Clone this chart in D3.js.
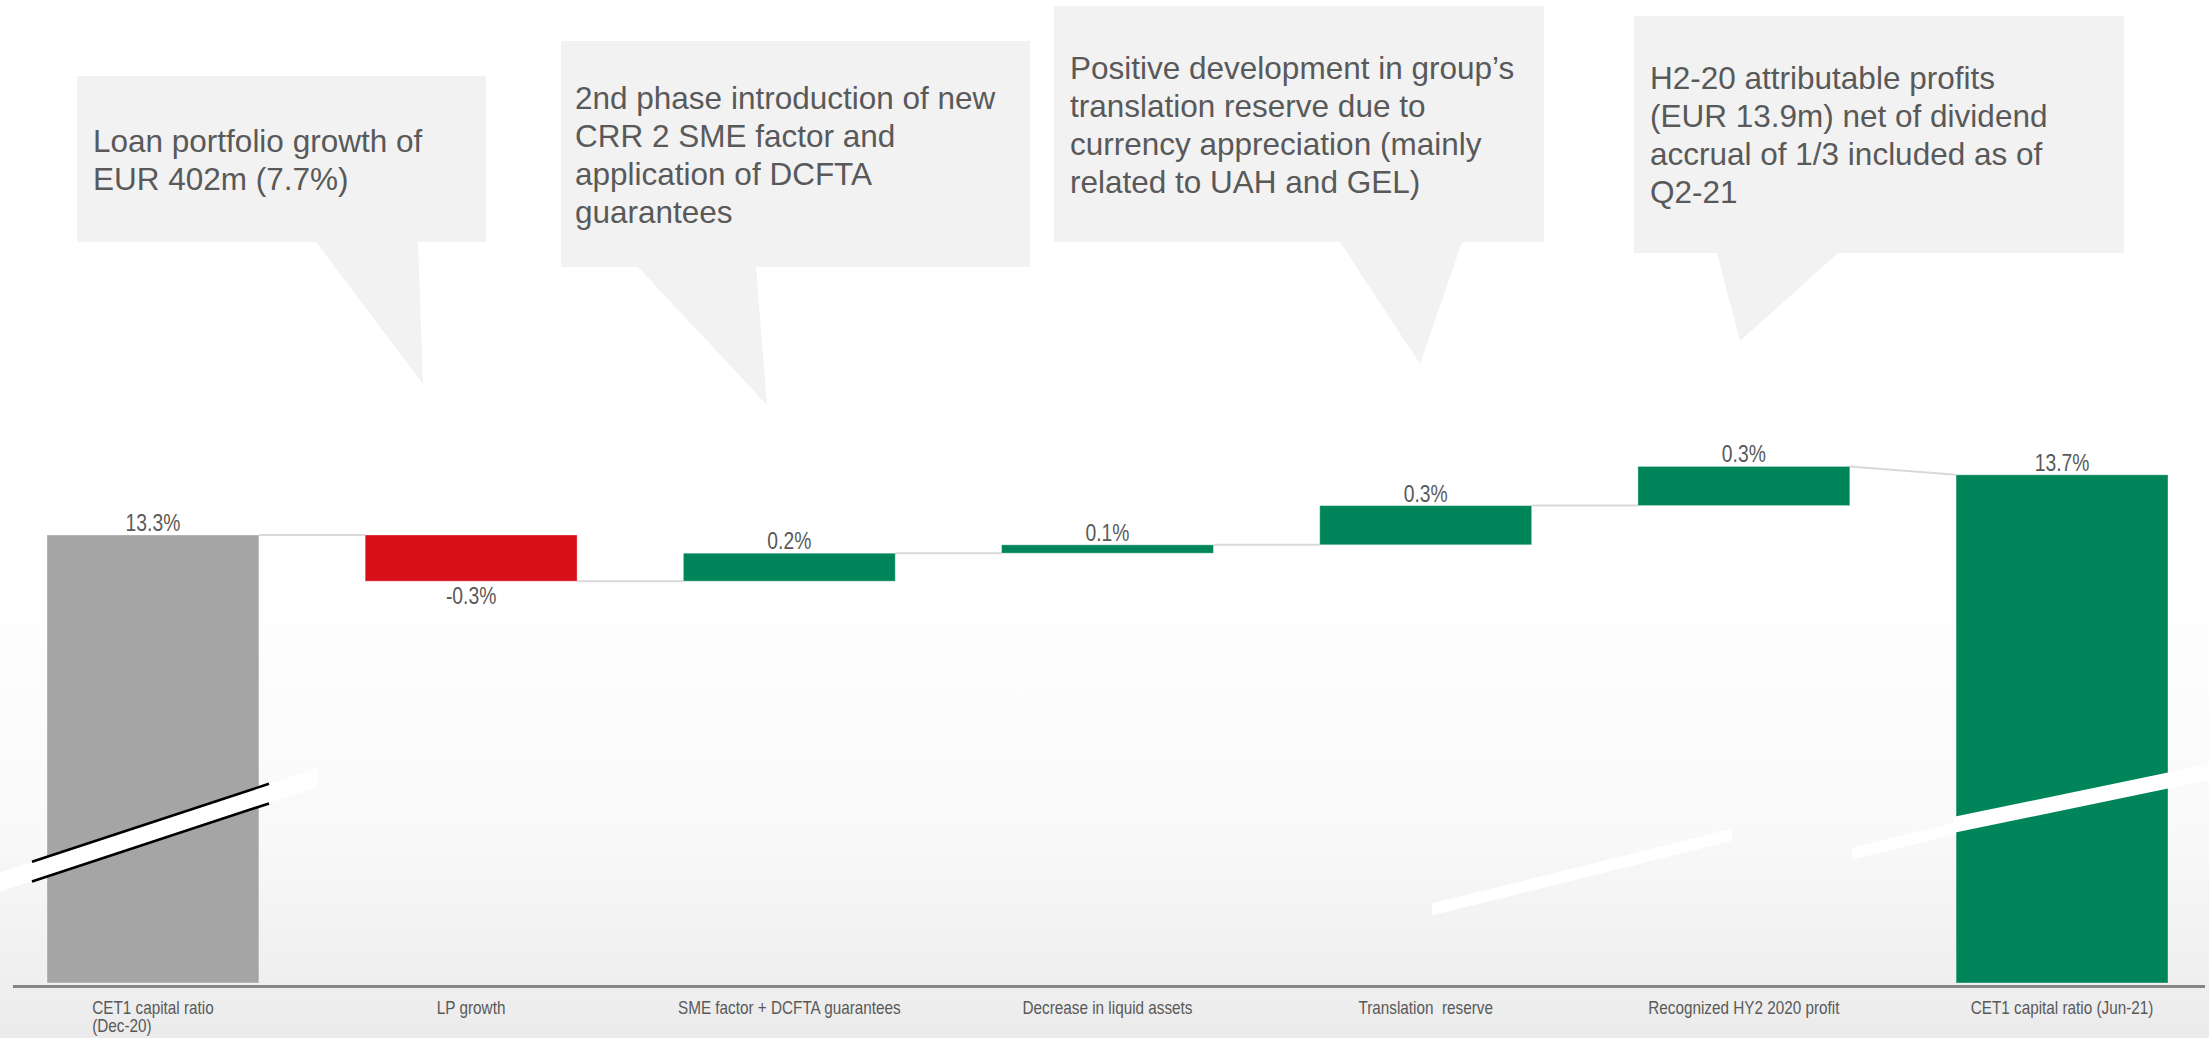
<!DOCTYPE html>
<html>
<head>
<meta charset="utf-8">
<script src="https://cdn.jsdelivr.net/npm/d3@7"></script>
<style>
  html, body { margin: 0; padding: 0; background: #ffffff; }
  svg { display: block; }
  text { white-space: pre; }
</style>
</head>
<body>
<svg id="chart" width="2209" height="1038"></svg>
<script>
// ---------------- DATA ----------------
const categories = [
  ["CET1 capital ratio", "(Dec-20)"],
  ["LP growth"],
  ["SME factor + DCFTA guarantees"],
  ["Decrease in liquid assets"],
  ["Translation  reserve"],
  ["Recognized HY2 2020 profit"],
  ["CET1 capital ratio (Jun-21)"]
];
const values = [13.3, -0.33, 0.20, 0.06, 0.28, 0.28, 13.73];
const kinds  = ["total", "delta", "delta", "delta", "delta", "delta", "total"];

const calloutTexts = [
  ["Loan portfolio growth of", "EUR 402m (7.7%)"],
  ["2nd phase introduction of new", "CRR 2 SME factor and", "application of DCFTA", "guarantees"],
  ["Positive development in group\u2019s", "translation reserve due to", "currency appreciation (mainly", "related to UAH and GEL)"],
  ["H2-20 attributable profits", "(EUR 13.9m) net of dividend", "accrual of 1/3 included as of", "Q2-21"]
];

// ---------------- LAYOUT ----------------
const W = 2209, H = 1038;
const svg = d3.select("#chart");

const calloutLayout = [
  { box: [77, 76, 486, 242],  tail: [[316, 242], [418, 242], [423, 384]], tx: 93,   ty: 152 },
  { box: [561, 41, 1030, 267], tail: [[638, 267], [756, 267], [767, 405]], tx: 575,  ty: 109 },
  { box: [1054, 6, 1544, 242], tail: [[1340, 242], [1462, 242], [1420, 364]], tx: 1070, ty: 79 },
  { box: [1634, 16, 2124, 253], tail: [[1717, 253], [1838, 253], [1740, 341]], tx: 1650, ty: 89 }
];

const colors = { start: "#a5a5a5", pos: "#00855a", neg: "#d60f19", end: "#00855a" };
const textColor = "#595959";

// background gradient
const defs = svg.append("defs");
const grad = defs.append("linearGradient").attr("id", "bg").attr("x1", 0).attr("y1", 0).attr("x2", 0).attr("y2", 1);
grad.append("stop").attr("offset", 0).attr("stop-color", "#ffffff");
grad.append("stop").attr("offset", 0.56).attr("stop-color", "#ffffff");
grad.append("stop").attr("offset", 0.8).attr("stop-color", "#f9f9f9");
grad.append("stop").attr("offset", 1).attr("stop-color", "#ebebeb");
svg.append("rect").attr("width", W).attr("height", H).attr("fill", "url(#bg)");

// scales
const x = d3.scaleBand().domain(d3.range(values.length)).range([47, 2168]).paddingInner(0.334).paddingOuter(0);
const y = d3.scaleLinear().domain([10.1, 14.0]).range([983, 437]);
const base = y.domain()[0];

// compute waterfall
let level = 0;
const bars = values.map((v, i) => {
  let lo, hi, start, end, color;
  if (kinds[i] === "total") {
    start = v; end = v; lo = base; hi = v;
    color = i === 0 ? colors.start : colors.end;
  } else {
    start = level; end = level + v;
    lo = Math.min(start, end); hi = Math.max(start, end);
    color = v >= 0 ? colors.pos : colors.neg;
  }
  level = kinds[i] === "total" ? v : end;
  return { i, v, kind: kinds[i], start, end, lo, hi, color };
});

// callouts
const cg = svg.append("g");
calloutLayout.forEach((c, k) => {
  const [x0, y0, x1, y1] = c.box;
  cg.append("rect").attr("x", x0).attr("y", y0).attr("width", x1 - x0).attr("height", y1 - y0).attr("fill", "#f2f2f2");
  cg.append("path").attr("d", "M" + c.tail.map(p => p.join(",")).join("L") + "Z").attr("fill", "#f2f2f2");
  // small overlap to hide seam
  cg.append("rect").attr("x", c.tail[0][0]).attr("y", y1 - 2).attr("width", c.tail[1][0] - c.tail[0][0]).attr("height", 3).attr("fill", "#f2f2f2");
  const t = cg.append("text").attr("x", c.tx).attr("y", c.ty)
    .attr("font-family", "Liberation Sans, Arial, sans-serif").attr("font-size", 31.5).attr("fill", textColor);
  calloutTexts[k].forEach((line, j) => {
    t.append("tspan").attr("x", c.tx).attr("dy", j === 0 ? 0 : 38).text(line);
  });
});

// connector lines
const conn = svg.append("g");
for (let i = 0; i < bars.length - 1; i++) {
  const a = bars[i], b = bars[i + 1];
  const ya = a.kind === "total" ? a.v : a.end;
  const yb = b.kind === "total" ? b.v : b.start;
  conn.append("line")
    .attr("x1", x(i) + x.bandwidth()).attr("y1", y(ya))
    .attr("x2", x(i + 1)).attr("y2", y(yb))
    .attr("stroke", "#d9d9d9").attr("stroke-width", 2);
}

// bars
svg.append("g").selectAll("rect").data(bars).join("rect")
  .attr("x", d => x(d.i)).attr("width", x.bandwidth())
  .attr("y", d => y(d.hi)).attr("height", d => y(d.lo) - y(d.hi))
  .attr("fill", d => d.color)
  .attr("stroke", "rgba(255,255,255,0.35)").attr("stroke-width", 1);

// break marks
const brk = svg.append("g");
function band(cx, cy, slope, x0, x1, thick, fill) {
  const yc = xx => cy - slope * (xx - cx);
  const h = thick / 2;
  brk.append("path")
    .attr("d", `M${x0},${yc(x0) - h}L${x1},${yc(x1) - h}L${x1},${yc(x1) + h}L${x0},${yc(x0) + h}Z`)
    .attr("fill", fill);
}
// left break (on first total bar)
{
  const cx = x(0) + x.bandwidth() / 2, cy = y(11.18), s = 0.329;
  band(cx, cy, s, 0, 318, 19, "#ffffff");
  const yc = xx => cy - s * (xx - cx);
  [-9.8, 9.8].forEach(off => {
    brk.append("line").attr("x1", 32).attr("y1", yc(32) + off).attr("x2", 269).attr("y2", yc(269) + off)
      .attr("stroke", "#000").attr("stroke-width", 2.6);
  });
}
// right break (on last total bar)
{
  const cx = x(6) + x.bandwidth() / 2, cy = y(11.39), s = 0.2075;
  band(cx, cy, s, x(6) - 2, W, 16, "#ffffff");
  band(cx, cy, 0.243, 1852, x(6), 12, "#ffffff");
  band(1582, 872, 0.249, 1432, 1732, 12, "#ffffff");
}

// data labels
const fmt = v => v.toFixed(1) + "%";
const lab = svg.append("g");
bars.forEach(d => {
  const cx = x(d.i) + x.bandwidth() / 2;
  const below = d.kind === "delta" && d.v < 0;
  const ty = below ? y(d.lo) + 23 : y(d.hi) - 4;
  lab.append("text")
    .attr("transform", `translate(${cx},${ty}) scale(0.84,1)`)
    .attr("text-anchor", "middle")
    .attr("font-family", "Liberation Sans, Arial, sans-serif").attr("font-size", 23)
    .attr("fill", textColor).text(fmt(d.v));
});

// axis baseline
svg.append("line").attr("x1", 13).attr("x2", 2205).attr("y1", 986.5).attr("y2", 986.5)
  .attr("stroke", "#858585").attr("stroke-width", 3);

// category labels
const cl = svg.append("g");
categories.forEach((lines, i) => {
  const cx = x(i) + x.bandwidth() / 2;
  const g = cl.append("g").attr("transform", `translate(${cx},1014) scale(0.85,1)`);
  const first = g.append("text").attr("x", 0).attr("y", 0).attr("text-anchor", "middle")
    .attr("font-family", "Liberation Sans, Arial, sans-serif").attr("font-size", 18).attr("fill", textColor)
    .text(lines[0]);
  if (lines.length > 1) {
    const w = first.node().getComputedTextLength();
    lines.slice(1).forEach((ln, j) => {
      g.append("text").attr("x", -w / 2).attr("y", 18.5 * (j + 1)).attr("text-anchor", "start")
        .attr("font-family", "Liberation Sans, Arial, sans-serif").attr("font-size", 18).attr("fill", textColor)
        .text(ln);
    });
  }
});
</script>
</body>
</html>
